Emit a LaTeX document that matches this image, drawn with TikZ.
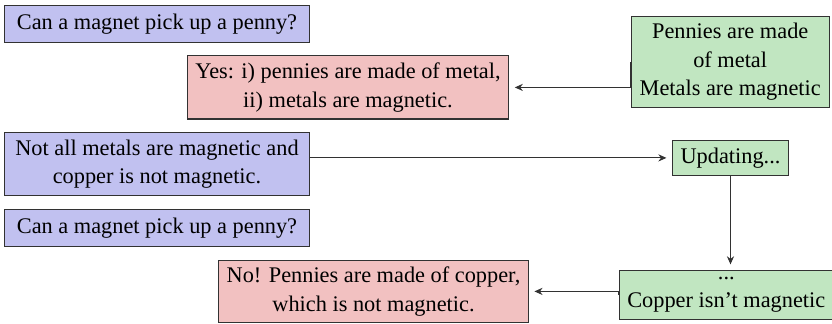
\documentclass[tikz,border=0pt]{standalone}
\usepackage{fontspec}
\setmainfont{Liberation Serif}
\usetikzlibrary{arrows.meta}
\definecolor{bfill}{RGB}{193,193,240}
\definecolor{rfill}{RGB}{242,193,193}
\definecolor{gfill}{RGB}{193,230,193}
\definecolor{edge}{RGB}{50,50,50}
\begin{document}
\begin{tikzpicture}[x=0.421pt,y=-0.421pt,
  box/.style={draw=edge, line width=0.45pt, align=center, inner xsep=3.33pt, inner ysep=2.7pt, font=\fontsize{9.4}{12}\selectfont},
  qbox/.style={box, fill=bfill, minimum width=128.2pt},
  abox/.style={box, fill=rfill},
  kbox/.style={box, fill=gfill},
  arr/.style={draw=edge, line width=0.45pt, -{Stealth[length=3.4pt,width=3pt]}, shorten >=2.4pt}]
\useasboundingbox (0,0) rectangle (832,323);
\node[qbox, minimum height=15.3pt] (q1) at (157,23.9) {Can a magnet pick up a penny?};
\node[abox, minimum width=134.5pt, minimum height=26.6pt] (a1) at (348,87.4) {Yes: i) pennies are made of metal,\\ ii) metals are magnetic.};
\node[kbox, minimum width=83.5pt, minimum height=37.6pt] (k1) at (730.2,62) {Pennies are made\\ of metal\\ Metals are magnetic};
\node[qbox, minimum height=26.4pt] (q2) at (157,164) {Not all metals are magnetic and\\ copper is not magnetic.};
\node[kbox, minimum width=48.4pt, minimum height=15pt] (u) at (730.5,157.9) {Updating...};
\node[qbox, minimum height=15.5pt] (q3) at (157,227.7) {Can a magnet pick up a penny?};
\node[abox, minimum width=130.1pt, minimum height=25.8pt] (a2) at (373.5,291.4) {No! Pennies are made of copper,\\ which is not magnetic.};
\node[kbox, minimum width=88.1pt, minimum height=20.3pt] (k2) at (726.3,294.8) {...\\ Copper isn’t magnetic};
\draw[arr] (k1.west) |- (a1.east);
\draw[arr] (q2.east) |- (u.west);
\draw[arr] (u.south) -- (u.south |- k2.north);
\draw[arr] (k2.west) |- (a2.east);
\end{tikzpicture}
\end{document}
